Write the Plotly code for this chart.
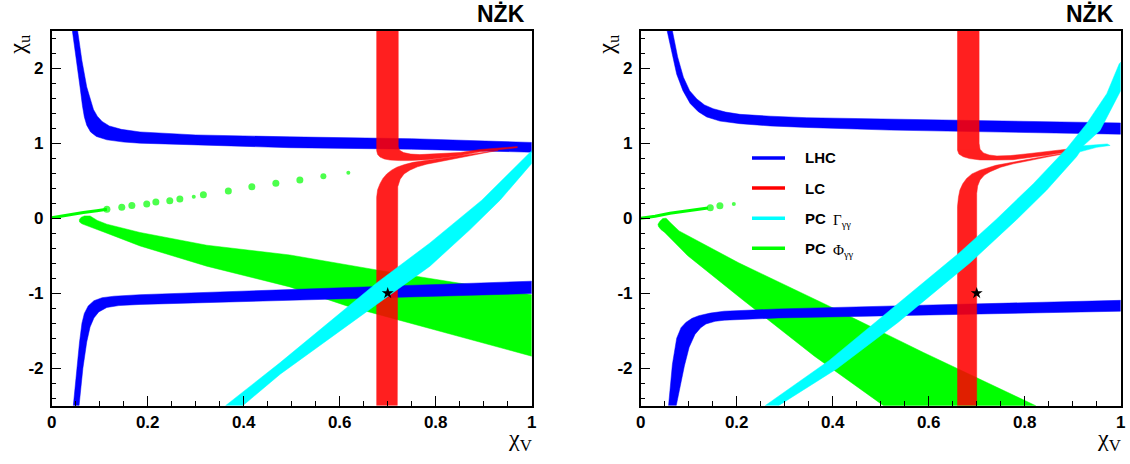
import plotly.graph_objects as go

# ---------------- panel A (left) : band edges ----------------
A_LHC1_TOP_X = [0.054, 0.063, 0.073, 0.081, 0.087, 0.095, 0.105, 0.12, 0.145, 0.184, 0.3, 0.496, 0.75, 1.0]
A_LHC1_TOP_Y = [2.5, 2.1, 1.75, 1.56, 1.45, 1.36, 1.29, 1.23, 1.185, 1.15, 1.11, 1.085, 1.06, 1.01]
A_LHC1_BOT_X = [0.043, 0.051, 0.059, 0.064, 0.068, 0.073, 0.081, 0.093, 0.115, 0.15, 0.184, 0.496, 0.75, 1.0]
A_LHC1_BOT_Y = [2.5, 2.1, 1.75, 1.5, 1.35, 1.24, 1.15, 1.09, 1.045, 1.015, 1.0, 0.94, 0.92, 0.88]

A_LHC2_TOP_X = [0.045, 0.052, 0.058, 0.063, 0.068, 0.076, 0.088, 0.105, 0.13, 0.184, 0.496, 1.0]
A_LHC2_TOP_Y = [-2.5, -2.0, -1.65, -1.4, -1.27, -1.17, -1.10, -1.06, -1.04, -1.02, -0.95, -0.84]
A_LHC2_BOT_X = [0.057, 0.065, 0.073, 0.080, 0.088, 0.098, 0.115, 0.14, 0.184, 0.496, 1.0]
A_LHC2_BOT_Y = [-2.5, -2.0, -1.65, -1.45, -1.33, -1.25, -1.19, -1.165, -1.15, -1.09, -1.005]

A_LC1_OUT_X = [0.722, 0.722, 0.725, 0.733, 0.748, 0.767, 0.81, 0.851, 0.892, 0.93, 0.97]
A_LC1_OUT_Y = [2.5, 0.95, 0.905, 0.875, 0.855, 0.848, 0.858, 0.876, 0.916, 0.94, 0.955]
A_LC1_IN_X = [0.677, 0.677, 0.679, 0.684, 0.693, 0.705, 0.725, 0.746, 0.781, 0.851, 0.892, 0.93, 0.97]
A_LC1_IN_Y = [2.5, 0.9, 0.85, 0.815, 0.79, 0.775, 0.768, 0.768, 0.78, 0.835, 0.885, 0.915, 0.94]

A_LC2_OUT_X = [0.720, 0.720, 0.721, 0.726, 0.734, 0.746, 0.762, 0.781, 0.823, 0.892, 0.93]
A_LC2_OUT_Y = [-2.5, 0.30, 0.42, 0.52, 0.59, 0.64, 0.685, 0.72, 0.77, 0.855, 0.90]
A_LC2_IN_X = [0.677, 0.677, 0.679, 0.684, 0.690, 0.698, 0.708, 0.719, 0.735, 0.753, 0.816, 0.892, 0.93]
A_LC2_IN_Y = [-2.5, 0.28, 0.38, 0.46, 0.53, 0.59, 0.64, 0.68, 0.715, 0.745, 0.805, 0.87, 0.905]

A_PCG_UP_X = [0.362, 0.476, 0.677, 0.788, 0.896, 0.934, 1.0]
A_PCG_UP_Y = [-2.5, -1.925, -0.863, -0.33, 0.24, 0.485, 0.90]
A_PCG_LO_X = [0.398, 0.476, 0.677, 0.788, 0.871, 0.934, 1.0]
A_PCG_LO_Y = [-2.5, -2.08, -1.15, -0.64, -0.155, 0.24, 0.73]

A_PCF_UP_X = [0.0575, 0.061, 0.068, 0.080, 0.095, 0.115, 0.184, 0.323, 0.496, 0.677, 1.0]
A_PCF_UP_Y = [-0.02, 0.01, 0.03, 0.03, -0.03, -0.08, -0.19, -0.36, -0.49, -0.69, -1.02]
A_PCF_LO_X = [0.0575, 0.058, 0.063, 0.072, 0.090, 0.115, 0.184, 0.323, 0.496, 0.615, 1.0]
A_PCF_LO_Y = [-0.02, -0.05, -0.075, -0.1, -0.14, -0.2, -0.37, -0.64, -0.916, -1.17, -1.84]

A_PCF_LINE_X = [0.0, 0.03, 0.066, 0.094, 0.115]
A_PCF_LINE_Y = [0.005, 0.04, 0.075, 0.10, 0.12]
A_PCF_DOT_X = [0.115, 0.146, 0.167, 0.198, 0.217, 0.246, 0.267, 0.296, 0.316, 0.368, 0.417, 0.467, 0.517, 0.566, 0.618]
A_PCF_DOT_Y = [0.12, 0.146, 0.17, 0.19, 0.215, 0.234, 0.256, 0.287, 0.313, 0.362, 0.42, 0.465, 0.51, 0.56, 0.605]
A_PCF_DOT_S = [7, 7, 7, 7, 7, 7, 7, 4, 7, 7, 7, 7, 7, 6, 4]

# ---------------- panel B (right) ----------------
B_LHC1_TOP_X = [0.066, 0.077, 0.089, 0.102, 0.117, 0.133, 0.151, 0.177, 0.207, 0.27, 0.346, 0.519, 1.0]
B_LHC1_TOP_Y = [2.5, 2.15, 1.88, 1.70, 1.59, 1.51, 1.46, 1.415, 1.385, 1.36, 1.34, 1.32, 1.27]
B_LHC1_BOT_X = [0.055, 0.065, 0.075, 0.088, 0.103, 0.12, 0.1375, 0.165, 0.207, 0.27, 0.346, 0.519, 1.0]
B_LHC1_BOT_Y = [2.5, 2.2, 1.92, 1.70, 1.53, 1.42, 1.35, 1.295, 1.26, 1.23, 1.21, 1.175, 1.12]

B_LHC2_TOP_X = [0.058, 0.066, 0.075, 0.084, 0.094, 0.107, 0.121, 0.145, 0.174, 0.287, 0.589, 1.0]
B_LHC2_TOP_Y = [-2.5, -1.95, -1.6, -1.46, -1.39, -1.335, -1.30, -1.265, -1.24, -1.21, -1.16, -1.095]
B_LHC2_BOT_X = [0.074, 0.083, 0.091, 0.101, 0.113, 0.125, 0.136, 0.155, 0.174, 0.287, 0.589, 1.0]
B_LHC2_BOT_Y = [-2.5, -2.2, -1.97, -1.72, -1.55, -1.46, -1.41, -1.375, -1.36, -1.33, -1.29, -1.24]

B_LC1_OUT_X = [0.705, 0.705, 0.707, 0.714, 0.726, 0.742, 0.77, 0.811, 0.901, 0.92]
B_LC1_OUT_Y = [2.5, 1.0, 0.92, 0.87, 0.843, 0.83, 0.835, 0.863, 0.93, 0.935]
B_LC1_IN_X = [0.66, 0.66, 0.663, 0.672, 0.685, 0.707, 0.74, 0.776, 0.846, 0.92]
B_LC1_IN_Y = [2.5, 0.905, 0.855, 0.82, 0.795, 0.777, 0.775, 0.78, 0.84, 0.915]

B_LC2_OUT_X = [0.70, 0.70, 0.702, 0.707, 0.716, 0.728, 0.75, 0.776, 0.846, 0.915]
B_LC2_OUT_Y = [-2.5, 0.33, 0.43, 0.51, 0.575, 0.62, 0.68, 0.725, 0.815, 0.89]
B_LC2_IN_X = [0.66, 0.66, 0.662, 0.665, 0.671, 0.679, 0.69, 0.707, 0.74, 0.776, 0.846, 0.915]
B_LC2_IN_Y = [-2.5, 0.155, 0.28, 0.375, 0.46, 0.53, 0.59, 0.64, 0.705, 0.75, 0.83, 0.90]

B_PCG_OUTLINE_X = [0.259, 0.392, 0.513, 0.664, 0.74, 0.818, 0.8875, 0.929, 0.971, 0.997, 1.0,
                   1.0, 0.957, 0.922, 0.95, 0.972, 0.978, 0.95, 0.915, 0.908, 0.846, 0.783,
                   0.687, 0.536, 0.408, 0.287]
B_PCG_OUTLINE_Y = [-2.5, -1.90, -1.26, -0.46, -0.02, 0.46, 0.93, 1.26, 1.66, 2.06, 2.08,
                   1.70, 1.17, 0.965, 0.98, 0.99, 0.97, 0.945, 0.885, 0.82, 0.376, -0.02,
                   -0.59, -1.39, -2.01, -2.5]

B_PCF_UP_X = [0.036, 0.040, 0.046, 0.053, 0.062, 0.080, 0.204, 0.392, 0.589, 0.823]
B_PCF_UP_Y = [-0.08, -0.04, -0.005, 0.0, -0.06, -0.17, -0.594, -1.17, -1.79, -2.5]
B_PCF_LO_X = [0.036, 0.037, 0.042, 0.050, 0.098, 0.211, 0.362, 0.506]
B_PCF_LO_Y = [-0.08, -0.11, -0.15, -0.19, -0.5, -1.08, -1.84, -2.5]

B_PCF_LINE_X = [0.0, 0.03, 0.061, 0.089, 0.117, 0.14]
B_PCF_LINE_Y = [0.0, 0.025, 0.066, 0.088, 0.12, 0.135]
B_PCF_DOT_X = [0.145, 0.165, 0.194]
B_PCF_DOT_Y = [0.14, 0.167, 0.19]
B_PCF_DOT_S = [7, 7, 4]

STAR_X = [0.7]
STAR_Y = [-1.0]

LEGEND_LABELS = ["LHC", "LC", "PC", "PC"]
LEGEND_GREEK = ["", "", "Γ<sub>γγ</sub>", "Φ<sub>γγ</sub>"]
X_TICKS = [0, 0.2, 0.4, 0.6, 0.8, 1]
X_TICKTEXT = ["0", "0.2", "0.4", "0.6", "0.8", "1"]
Y_TICKS = [-2, -1, 0, 1, 2]
Y_TICKTEXT = ["-2", "-1", "0", "1", "2"]

BLUE, RED, CYAN, GREEN = "#0000ff", "#ff0000", "#00ffff", "#00ff00"

W, H = 1130, 464


def band(xa, ya, xb, yb):
    return list(xa) + list(reversed(xb)), list(ya) + list(reversed(yb))


def poly(fig, xs, ys, color, ax, opacity=1.0):
    fig.add_trace(go.Scatter(x=xs, y=ys, mode="lines", fill="toself", fillcolor=color,
                             line=dict(color=color, width=0.5),
                             opacity=opacity,
                             hoverinfo="skip", showlegend=False, xaxis=ax[0], yaxis=ax[1]))


fig = go.Figure()

panels = [
    (("x", "y"), dict(
        lhc=[(A_LHC1_TOP_X, A_LHC1_TOP_Y, A_LHC1_BOT_X, A_LHC1_BOT_Y),
             (A_LHC2_TOP_X, A_LHC2_TOP_Y, A_LHC2_BOT_X, A_LHC2_BOT_Y)],
        lc=[(A_LC1_IN_X, A_LC1_IN_Y, A_LC1_OUT_X, A_LC1_OUT_Y),
            (A_LC2_OUT_X, A_LC2_OUT_Y, A_LC2_IN_X, A_LC2_IN_Y)],
        pcg=band(A_PCG_UP_X, A_PCG_UP_Y, A_PCG_LO_X, A_PCG_LO_Y),
        pcf=band(A_PCF_UP_X, A_PCF_UP_Y, A_PCF_LO_X, A_PCF_LO_Y),
        line=(A_PCF_LINE_X, A_PCF_LINE_Y),
        dots=(A_PCF_DOT_X, A_PCF_DOT_Y, A_PCF_DOT_S))),
    (("x2", "y2"), dict(
        lhc=[(B_LHC1_TOP_X, B_LHC1_TOP_Y, B_LHC1_BOT_X, B_LHC1_BOT_Y),
             (B_LHC2_TOP_X, B_LHC2_TOP_Y, B_LHC2_BOT_X, B_LHC2_BOT_Y)],
        lc=[(B_LC1_IN_X, B_LC1_IN_Y, B_LC1_OUT_X, B_LC1_OUT_Y),
            (B_LC2_OUT_X, B_LC2_OUT_Y, B_LC2_IN_X, B_LC2_IN_Y)],
        pcg=(B_PCG_OUTLINE_X, B_PCG_OUTLINE_Y),
        pcf=band(B_PCF_UP_X, B_PCF_UP_Y, B_PCF_LO_X, B_PCF_LO_Y),
        line=(B_PCF_LINE_X, B_PCF_LINE_Y),
        dots=(B_PCF_DOT_X, B_PCF_DOT_Y, B_PCF_DOT_S))),
]

for ax, p in panels:
    xs, ys = p["pcf"]
    poly(fig, xs, ys, GREEN, ax)
    fig.add_trace(go.Scatter(x=p["line"][0], y=p["line"][1], mode="lines",
                             line=dict(color=GREEN, width=3), hoverinfo="skip",
                             showlegend=False, xaxis=ax[0], yaxis=ax[1]))
    fig.add_trace(go.Scatter(x=p["dots"][0], y=p["dots"][1], mode="markers",
                             marker=dict(color=GREEN, size=p["dots"][2], line=dict(width=0)),
                             hoverinfo="skip", showlegend=False, xaxis=ax[0], yaxis=ax[1]))
    for b in p["lhc"]:
        xs, ys = band(*b)
        poly(fig, xs, ys, BLUE, ax)
    for b in p["lc"]:
        xs, ys = band(*b)
        poly(fig, xs, ys, RED, ax, opacity=0.88)
    xs, ys = p["pcg"]
    poly(fig, xs, ys, CYAN, ax)
    fig.add_trace(go.Scatter(x=STAR_X, y=STAR_Y, mode="markers",
                             marker=dict(symbol="star", size=9, color="black"),
                             hoverinfo="skip", showlegend=False, xaxis=ax[0], yaxis=ax[1]))

# ---------------- axes ----------------
Y0, Y1 = 1 - 405.7 / H, 1 - 30.7 / H
XA = (51.7 / W, 531.7 / W)
XB = (640.7 / W, 1120.7 / W)

tickfont = dict(family="Liberation Sans", size=17, color="black", weight="bold")
common_x = dict(range=[0, 1], tickmode="array", tickvals=X_TICKS, ticktext=X_TICKTEXT,
                ticks="inside", ticklen=10, tickwidth=1, tickcolor="black",
                minor=dict(dtick=0.05, tick0=0, ticks="inside", ticklen=5, tickcolor="black", tickwidth=1, showgrid=False),
                showline=True, linecolor="black", linewidth=1.5, mirror=True, automargin=False,
                showgrid=False, zeroline=False, tickfont=tickfont, fixedrange=True)
common_y = dict(range=[-2.5, 2.5], tickmode="array", tickvals=Y_TICKS, ticktext=Y_TICKTEXT,
                ticks="inside", ticklen=10, tickwidth=1, tickcolor="black",
                minor=dict(dtick=0.2, tick0=0, ticks="inside", ticklen=5, tickcolor="black", tickwidth=1, showgrid=False),
                showline=True, linecolor="black", linewidth=1.5, mirror=True, automargin=False,
                ticklabelstandoff=3,
                showgrid=False, zeroline=False, tickfont=tickfont, fixedrange=True)

fig.update_layout(
    width=W, height=H, autosize=False,
    margin=dict(l=0, r=0, t=0, b=0, pad=0),
    paper_bgcolor="white", plot_bgcolor="white",
    showlegend=False,
    xaxis=dict(domain=list(XA), anchor="y", **common_x),
    yaxis=dict(domain=[Y0, Y1], anchor="x", **common_y),
    xaxis2=dict(domain=list(XB), anchor="y2", **common_x),
    yaxis2=dict(domain=[Y0, Y1], anchor="x2", **common_y),
)

ann = []
greek = dict(family="Liberation Serif", size=24, color="black")
for (xl, xr) in (XA, XB):
    ann.append(dict(x=xr - 31 / W, y=1 - 14 / H, xref="paper", yref="paper", text="<b>NŻK</b>",
                    showarrow=False, font=dict(family="Liberation Sans", size=23, color="black"),
                    xanchor="center", yanchor="middle"))
    ann.append(dict(x=xr - 12 / W, y=1 - 440 / H, xref="paper", yref="paper", text="χ<sub>V</sub>",
                    showarrow=False, font=greek, xanchor="center", yanchor="middle"))
    ann.append(dict(x=xl - 33 / W, y=1 - 44 / H, xref="paper", yref="paper", text="χ<sub>u</sub>",
                    showarrow=False, font=greek, textangle=-90, xanchor="center", yanchor="middle"))

LEG_COLORS = [BLUE, RED, CYAN, GREEN]
shapes = []
for i, (lab, gk, col) in enumerate(zip(LEGEND_LABELS, LEGEND_GREEK, LEG_COLORS)):
    yy = 1 - (158 + 30.1 * i) / H
    shapes.append(dict(type="line", xref="paper", yref="paper", x0=752 / W, x1=785 / W,
                       y0=yy, y1=yy, line=dict(color=col, width=3.5)))
    ann.append(dict(x=803 / W, y=yy, xref="paper", yref="paper", text="<b>%s</b>" % lab,
                    showarrow=False, font=dict(family="Liberation Sans", size=15, color="black"),
                    xanchor="left", yanchor="middle"))
    if gk:
        ann.append(dict(x=831 / W, y=yy - 3 / H, xref="paper", yref="paper", text=gk,
                        showarrow=False, font=dict(family="Liberation Serif", size=15, color="black"),
                        xanchor="left", yanchor="middle"))

fig.update_layout(annotations=ann, shapes=shapes)
fig.write_html("out.html")
